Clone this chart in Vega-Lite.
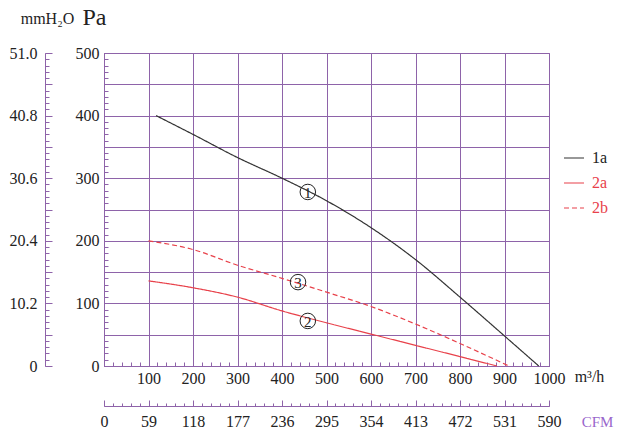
{
  "$schema": "https://vega.github.io/schema/vega-lite/v6.json",
  "width": 445,
  "height": 313,
  "autosize": "none",
  "padding": {"left": 104, "top": 53, "right": 72, "bottom": 76},
  "background": "white",
  "config": {
    "font": "'Liberation Serif', 'Times New Roman', 'DejaVu Serif', serif",
    "style": {
      "guide-label": {"font": "'Liberation Serif', 'Times New Roman', 'DejaVu Serif', serif", "fontSize": 16, "fill": "#222222"},
      "guide-title": {"font": "'Liberation Serif', 'Times New Roman', 'DejaVu Serif', serif"}
    },
    "view": {"stroke": "#8e63a9", "strokeWidth": 1},
    "axis": {
      "labelFont": "'Liberation Serif', 'Times New Roman', 'DejaVu Serif', serif",
      "titleFont": "'Liberation Serif', 'Times New Roman', 'DejaVu Serif', serif",
      "labelColor": "#222222",
      "titleColor": "#222222",
      "domainColor": "#8e63a9",
      "tickColor": "#8e63a9",
      "gridColor": "#8e63a9",
      "gridOpacity": 1,
      "labelFontSize": 16,
      "titleFontWeight": "normal",
      "labelFlush": false,
      "labelOverlap": false
    },
    "legend": {
      "labelFont": "'Liberation Serif', 'Times New Roman', 'DejaVu Serif', serif"
    }
  },
  "datasets": {
    "curves": [
      {"q": 117, "p": 400, "s": "1a"}, {"q": 200, "p": 370, "s": "1a"}, {"q": 300, "p": 333, "s": "1a"},
      {"q": 400, "p": 300, "s": "1a"}, {"q": 500, "p": 264, "s": "1a"}, {"q": 600, "p": 221, "s": "1a"},
      {"q": 700, "p": 170, "s": "1a"}, {"q": 800, "p": 110, "s": "1a"}, {"q": 900, "p": 48, "s": "1a"},
      {"q": 977, "p": 0, "s": "1a"},
      {"q": 100, "p": 136, "s": "2a"}, {"q": 200, "p": 125, "s": "2a"}, {"q": 300, "p": 110, "s": "2a"},
      {"q": 400, "p": 88, "s": "2a"}, {"q": 500, "p": 69, "s": "2a"}, {"q": 600, "p": 51, "s": "2a"},
      {"q": 700, "p": 33, "s": "2a"}, {"q": 800, "p": 15, "s": "2a"}, {"q": 883, "p": 0, "s": "2a"},
      {"q": 100, "p": 200, "s": "2b"}, {"q": 200, "p": 186, "s": "2b"}, {"q": 300, "p": 161, "s": "2b"},
      {"q": 400, "p": 140, "s": "2b"}, {"q": 500, "p": 118, "s": "2b"}, {"q": 600, "p": 95, "s": "2b"},
      {"q": 700, "p": 67, "s": "2b"}, {"q": 800, "p": 36, "s": "2b"}, {"q": 910, "p": 0, "s": "2b"}
    ],
    "notes": [
      {"q": 458, "p": 278, "t": "1"},
      {"q": 436, "p": 134, "t": "3"},
      {"q": 458, "p": 72, "t": "2"}
    ]
  },
  "layer": [
    {
      "data": {"name": "curves"},
      "mark": {"type": "line", "strokeWidth": 1.2, "interpolate": "monotone"},
      "encoding": {
        "x": {"field": "q", "type": "quantitative", "scale": {"domain": [0, 1000], "nice": false},
          "axis": {"orient": "bottom", "values": [0,100,200,300,400,500,600,700,800,900,1000], "grid": true, "ticks": false, "domain": true,
            "labelFont": "'Liberation Serif', 'Times New Roman', 'DejaVu Serif', serif", "labelFontSize": 16,
            "labelPadding": 4, "labelExpr": "datum.value==0?'':format(datum.value,'d')",
            "title": "m³/h", "titleX": 485, "titleY": 10, "titleAngle": 0, "titleAlign": "center", "titleBaseline": "middle", "titleFontSize": 16}},
        "y": {"field": "p", "type": "quantitative", "scale": {"domain": [0, 500], "nice": false},
          "axis": {"orient": "left", "values": [0,50,100,150,200,250,300,350,400,450,500], "grid": true, "ticks": false, "domain": true,
            "labelFont": "'Liberation Serif', 'Times New Roman', 'DejaVu Serif', serif", "labelFontSize": 16,
            "labelPadding": 5, "labelExpr": "datum.value%100==0?format(datum.value,'d'):''",
            "title": "Pa", "titleX": -10, "titleY": -36, "titleAngle": 0, "titleAlign": "center", "titleBaseline": "middle", "titleFontSize": 24}},
        "color": {"field": "s", "type": "nominal", "scale": {"domain": ["1a","2a","2b"], "range": ["#333333","#e8414a","#e8414a"]},
          "legend": {"title": null, "orient": "none", "legendX": 459, "legendY": 94, "symbolType": "stroke", "symbolSize": 400, "symbolStrokeWidth": 1.2,
            "labelFont": "'Liberation Serif', 'Times New Roman', 'DejaVu Serif', serif",
            "labelFontSize": 16, "rowPadding": 6, "labelOffset": 7,
            "encode": {"labels": {"update": {"fill": {"signal": "datum.value==='1a'?'#222222':'#e8414a'"}}}}}},
        "strokeDash": {"field": "s", "type": "nominal", "scale": {"domain": ["1a","2a","2b"], "range": [[1,0],[1,0],[5,3]]},
          "legend": {"title": null, "orient": "none", "legendX": 459, "legendY": 94, "symbolType": "stroke", "symbolSize": 400, "symbolStrokeWidth": 1.2,
            "labelFont": "'Liberation Serif', 'Times New Roman', 'DejaVu Serif', serif",
            "labelFontSize": 16, "rowPadding": 6, "labelOffset": 7,
            "encode": {"labels": {"update": {"fill": {"signal": "datum.value==='1a'?'#222222':'#e8414a'"}}}}}}
      }
    },
    {
      "data": {"name": "notes"},
      "mark": {"type": "point", "shape": "circle", "filled": false, "stroke": "#222222", "strokeWidth": 1, "size": 240, "opacity": 1},
      "encoding": {
        "x": {"field": "q", "type": "quantitative", "scale": {"domain": [0, 1000], "nice": false}, "axis": null},
        "y": {"field": "p", "type": "quantitative", "scale": {"domain": [0, 500], "nice": false}, "axis": null}
      }
    },
    {
      "data": {"name": "notes"},
      "mark": {"type": "text", "font": "'Liberation Serif', 'Times New Roman', 'DejaVu Serif', serif", "fontSize": 15, "align": "center", "baseline": "middle", "color": "#222222", "dy": 1},
      "encoding": {
        "x": {"field": "q", "type": "quantitative", "scale": {"domain": [0, 1000], "nice": false}, "axis": null},
        "y": {"field": "p", "type": "quantitative", "scale": {"domain": [0, 500], "nice": false}, "axis": null},
        "text": {"field": "t", "type": "nominal"}
      }
    },
    {
      "data": {"name": "curves"},
      "mark": {"type": "point", "opacity": 0},
      "encoding": {
        "x": {"field": "q", "type": "quantitative", "scale": {"domain": [0, 1000], "nice": false},
          "axis": {"orient": "bottom", "values": [0,20,40,60,80,100,120,140,160,180,200,220,240,260,280,300,320,340,360,380,400,420,440,460,480,500,520,540,560,580,600,620,640,660,680,700,720,740,760,780,800,820,840,860,880,900,920,940,960,980,1000],
            "labels": false, "domain": false, "grid": false, "ticks": true, "tickSize": -4, "title": null}},
        "y": {"field": "p", "type": "quantitative", "scale": {"domain": [0, 500], "nice": false},
          "axis": {"orient": "left", "values": [0,10,20,30,40,50,60,70,80,90,100,110,120,130,140,150,160,170,180,190,200,210,220,230,240,250,260,270,280,290,300,310,320,330,340,350,360,370,380,390,400,410,420,430,440,450,460,470,480,490,500],
            "labels": false, "domain": false, "grid": false, "ticks": true, "tickSize": -4, "title": null}}
      }
    },
    {
      "data": {"name": "curves"},
      "mark": {"type": "point", "opacity": 0},
      "encoding": {
        "x": {"field": "q", "type": "quantitative", "scale": {"domain": [0, 590], "nice": false},
          "axis": {"orient": "bottom", "offset": 40, "values": [0,59,118,177,236,295,354,413,472,531,590], "format": "d",
            "labelFont": "'Liberation Serif', 'Times New Roman', 'DejaVu Serif', serif", "labelFontSize": 16,
            "labels": true, "domain": true, "grid": false, "ticks": false, "labelPadding": 7,
            "title": "CFM", "titleX": 493, "titleY": 15, "titleAngle": 0, "titleAlign": "center", "titleBaseline": "middle", "titleFontSize": 15, "titleColor": "#9966cc"}},
        "y": {"field": "p", "type": "quantitative", "scale": {"domain": [0, 51], "nice": false},
          "axis": {"orient": "left", "offset": 59, "values": [0,10.2,20.4,30.6,40.8,51],
            "labelFont": "'Liberation Serif', 'Times New Roman', 'DejaVu Serif', serif", "labelFontSize": 16,
            "labelExpr": "datum.value==0?'0':format(datum.value,'.1f')",
            "labels": true, "domain": true, "grid": false, "ticks": false, "labelPadding": 8,
            "title": "mmH₂O", "titleX": 2, "titleY": -35, "titleAngle": 0, "titleAlign": "center", "titleBaseline": "middle", "titleFontSize": 16}}
      }
    },
    {
      "data": {"name": "curves"},
      "mark": {"type": "point", "opacity": 0},
      "encoding": {
        "x": {"field": "q", "type": "quantitative", "scale": {"domain": [0, 590], "nice": false},
          "axis": {"orient": "bottom", "offset": 40, "values": [0,59,118,177,236,295,354,413,472,531,590],
            "labels": false, "domain": false, "grid": false, "ticks": true, "tickSize": -6, "title": null}},
        "y": {"field": "p", "type": "quantitative", "scale": {"domain": [0, 51], "nice": false},
          "axis": {"orient": "left", "offset": 59, "values": [0,5.1,10.2,15.3,20.4,25.5,30.6,35.7,40.8,45.9,51],
            "labels": false, "domain": false, "grid": false, "ticks": true, "tickSize": -7, "title": null}}
      }
    },
    {
      "data": {"name": "curves"},
      "mark": {"type": "point", "opacity": 0},
      "encoding": {
        "x": {"field": "q", "type": "quantitative", "scale": {"domain": [0, 590], "nice": false},
          "axis": {"orient": "bottom", "offset": 40, "values": [0,11.8,23.6,35.4,47.2,59,70.8,82.6,94.4,106.2,118,129.8,141.6,153.4,165.2,177,188.8,200.6,212.4,224.2,236,247.8,259.6,271.4,283.2,295,306.8,318.6,330.4,342.2,354,365.8,377.6,389.4,401.2,413,424.8,436.6,448.4,460.2,472,483.8,495.6,507.4,519.2,531,542.8,554.6,566.4,578.2,590],
            "labels": false, "domain": false, "grid": false, "ticks": true, "tickSize": -3, "title": null}},
        "y": {"field": "p", "type": "quantitative", "scale": {"domain": [0, 51], "nice": false},
          "axis": {"orient": "left", "offset": 59, "values": [0,1.02,2.04,3.06,4.08,5.1,6.12,7.14,8.16,9.18,10.2,11.22,12.24,13.26,14.28,15.3,16.32,17.34,18.36,19.38,20.4,21.42,22.44,23.46,24.48,25.5,26.52,27.54,28.56,29.58,30.6,31.62,32.64,33.66,34.68,35.7,36.72,37.74,38.76,39.78,40.8,41.82,42.84,43.86,44.88,45.9,46.92,47.94,48.96,49.98,51],
            "labels": false, "domain": false, "grid": false, "ticks": true, "tickSize": -4, "title": null}}
      }
    }
  ],
  "resolve": {
    "scale": {"x": "independent", "y": "independent"},
    "axis": {"x": "independent", "y": "independent"}
  }
}
